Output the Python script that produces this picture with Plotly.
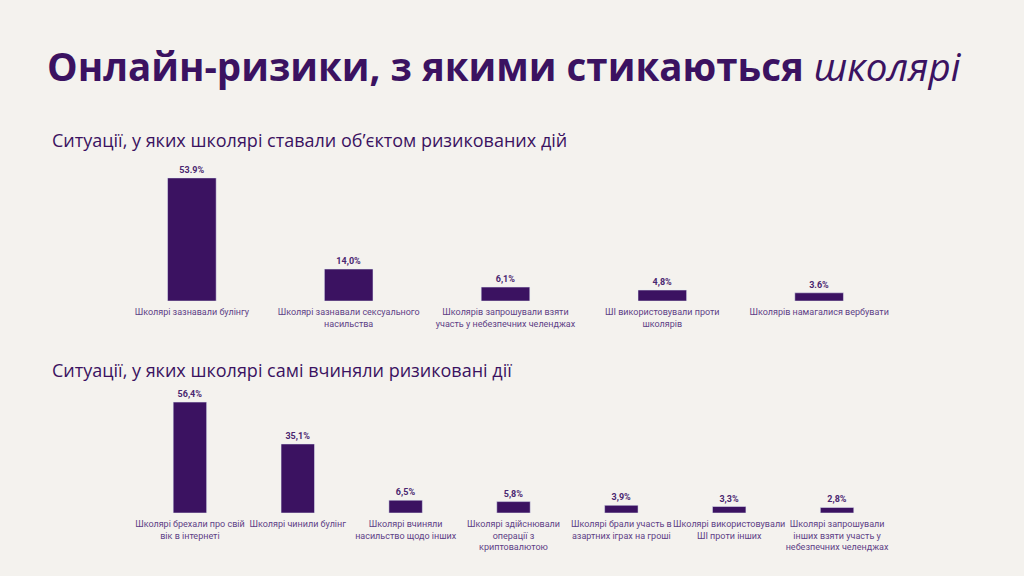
import plotly.graph_objects as go

# top chart: situations where pupils were the target
top_cats = [
    "Школярі зазнавали булінгу",
    "Школярі зазнавали сексуального<br>насильства",
    "Школярів запрошували взяти<br>участь у небезпечних челенджах",
    "ШІ використовували проти<br>школярів",
    "Школярів намагалися вербувати",
]
top_vals = [53.9, 14.0, 6.1, 4.8, 3.6]
top_labels = ["53.9%", "14,0%", "6,1%", "4,8%", "3.6%"]

# bottom chart: situations where pupils acted themselves
bot_cats = [
    "Школярі брехали про свій<br>вік в інтернеті",
    "Школярі чинили булінг",
    "Школярі вчиняли<br>насильство щодо інших",
    "Школярі здійснювали<br>операції з<br>криптовалютою",
    "Школярі брали участь в<br>азартних іграх на гроші",
    "Школярі використовували<br>ШІ проти інших",
    "Школярі запрошували<br>інших взяти участь у<br>небезпечних челенджах",
]
bot_vals = [56.4, 35.1, 6.5, 5.8, 3.9, 3.3, 2.8]
bot_labels = ["56,4%", "35,1%", "6,5%", "5,8%", "3,9%", "3,3%", "2,8%"]

BG = "#F4F2EE"
PURPLE = "#3B1261"
TICK = "#5E3F86"
FONT = "Roboto"
HEAD = "Open Sans"

fig = go.Figure()
fig.add_trace(go.Bar(x=top_cats, y=top_vals, text=top_labels, textposition="outside",
                     cliponaxis=False, marker_color=PURPLE,
                     textfont=dict(size=9, color="#4A2670", family=FONT, weight="bold"),
                     xaxis="x", yaxis="y"))
fig.add_trace(go.Bar(x=bot_cats, y=bot_vals, text=bot_labels, textposition="outside",
                     cliponaxis=False, marker_color=PURPLE,
                     textfont=dict(size=9, color="#4A2670", family=FONT, weight="bold"),
                     xaxis="x2", yaxis="y2"))

axis_common = dict(showgrid=False, zeroline=False, showline=False, ticks="",
                   tickfont=dict(size=9, color=TICK, family=FONT), tickangle=0,
                   ticklabelstandoff=4)

fig.update_layout(
    width=1024, height=576,
    paper_bgcolor=BG, plot_bgcolor=BG,
    margin=dict(l=0, r=0, t=0, b=0),
    showlegend=False, bargap=0.69,
    font=dict(family=FONT, color=PURPLE),
    xaxis=dict(domain=[0.1108, 0.8765], anchor="y", **axis_common),
    yaxis=dict(domain=[0.4774, 0.7153], range=[0, 60], visible=False),
    xaxis2=dict(domain=[0.1328, 0.8701], anchor="y2", **axis_common),
    yaxis2=dict(domain=[0.1094, 0.3142], range=[0, 60], visible=False),
)

fig.add_annotation(text="<b>Онлайн-ризики, з якими стикаються</b> <i>школярі</i>",
                   x=45 / 1024, y=1 - 66 / 576, xref="paper", yref="paper",
                   xanchor="left", yanchor="middle", showarrow=False,
                   font=dict(size=38.5, color=PURPLE, family=HEAD))
fig.add_annotation(text="Ситуації, у яких школярі ставали об’єктом ризикованих дій",
                   x=50 / 1024, y=1 - 140 / 576, xref="paper", yref="paper",
                   xanchor="left", yanchor="middle", showarrow=False,
                   font=dict(size=18, color=PURPLE, family=HEAD))
fig.add_annotation(text="Ситуації, у яких школярі самі вчиняли ризиковані дії",
                   x=50 / 1024, y=1 - 370 / 576, xref="paper", yref="paper",
                   xanchor="left", yanchor="middle", showarrow=False,
                   font=dict(size=18, color=PURPLE, family=HEAD))

fig.write_html("out.html", config={"displayModeBar": False},
               post_script="document.body.style.margin='0';")
